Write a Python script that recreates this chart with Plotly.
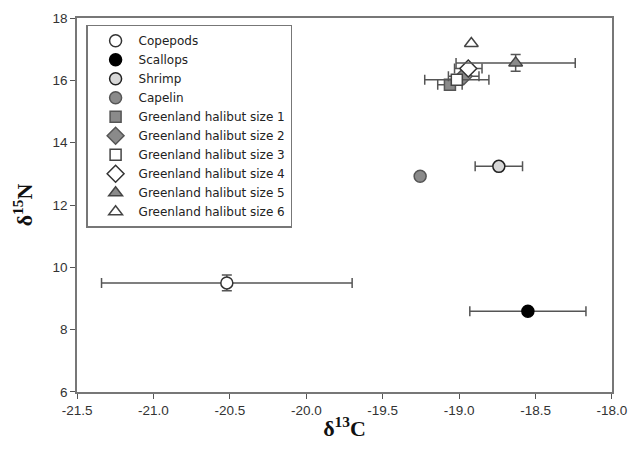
import plotly.graph_objects as go

species = ["Copepods", "Scallops", "Shrimp", "Capelin",
           "Greenland halibut size 1", "Greenland halibut size 2",
           "Greenland halibut size 3", "Greenland halibut size 4",
           "Greenland halibut size 5", "Greenland halibut size 6"]
d13c = [-20.52, -18.55, -18.74, -19.255, -19.06, -18.97, -19.015, -18.94, -18.63, -18.92]
d15n = [9.50, 8.59, 13.24, 12.92, 15.86, 16.13, 16.02, 16.38, 16.56, 17.18]
x_err = [0.82, 0.38, 0.155, 0.02, 0.08, 0.10, 0.21, 0.09, 0.39, 0.0]
y_err = [0.25, 0.08, 0.08, 0.05, 0.08, 0.08, 0.08, 0.12, 0.27, 0.0]

x_ticks = [-21.5, -21.0, -20.5, -20.0, -19.5, -19.0, -18.5, -18.0]
x_tick_labels = ["-21.5", "-21.0", "-20.5", "-20.0", "-19.5", "-19.0", "-18.5", "-18.0"]
y_ticks = [6, 8, 10, 12, 14, 16, 18]
y_tick_labels = ["6", "8", "10", "12", "14", "16", "18"]

symbols = ["circle", "circle", "circle", "circle", "square", "diamond",
           "square", "diamond", "triangle-up", "triangle-up"]
fills = ["white", "black", "#d8d8d8", "#8a8a8a", "#8a8a8a", "#8a8a8a",
         "white", "white", "#8a8a8a", "white"]
lines = ["#333333", "black", "#222222", "#555555", "#555555", "#555555",
         "#444444", "#333333", "#444444", "#444444"]
sizes = [12, 12, 12, 12, 11, 13, 11, 13, 12, 12]

fig = go.Figure()
for i, name in enumerate(species):
    fig.add_trace(go.Scatter(
        x=[d13c[i]], y=[d15n[i]], mode="markers", name=name,
        marker=dict(symbol=symbols[i], color=fills[i], size=sizes[i],
                    line=dict(color=lines[i], width=1.5)),
        error_x=dict(type="data", array=[x_err[i]], color="#555555",
                     thickness=1.5, width=5, visible=x_err[i] > 0),
        error_y=dict(type="data", array=[y_err[i]], color="#555555",
                     thickness=1.5, width=5, visible=y_err[i] > 0),
    ))

axis_common = dict(showgrid=False, zeroline=False, showline=True,
                   linecolor="#777777", linewidth=1.5, mirror=True,
                   ticks="outside", ticklen=5, tickcolor="#555555",
                   automargin=False, ticklabeloverflow="allow",
                   tickfont=dict(family="Liberation Sans, Arial", size=13.5, color="#333333"))

fig.update_xaxes(range=[-21.5005, -17.9995], tickmode="array",
                 tickvals=x_ticks, ticktext=x_tick_labels,
                 title=dict(text="<b>δ<sup>13</sup>C</b>",
                            font=dict(family="Liberation Serif, Times New Roman", size=22, color="#111111"),
                            standoff=4),
                 **axis_common)
fig.update_yaxes(range=[5.999, 18.001], tickmode="array",
                 tickvals=y_ticks, ticktext=y_tick_labels,
                 title=dict(text="<b>δ<sup>15</sup>N</b>",
                            font=dict(family="Liberation Serif, Times New Roman", size=22, color="#111111"),
                            standoff=14),
                 **axis_common)

fig.update_layout(
    width=628, height=454,
    margin=dict(l=76.5, r=16, t=18.3, b=61.7),
    paper_bgcolor="white", plot_bgcolor="white",
    showlegend=True,
    legend=dict(x=0.017, y=0.982, xanchor="left", yanchor="top",
                bgcolor="white", bordercolor="#777777", borderwidth=1.5,
                font=dict(family="DejaVu Sans", size=12, color="#222222"),
                tracegroupgap=0, itemsizing="trace",
                indentation=5, itemwidth=36),
)

fig.write_html("out.html",
               config={"displayModeBar": False},
               post_script="document.body.style.margin='0';document.body.style.overflow='hidden';")
